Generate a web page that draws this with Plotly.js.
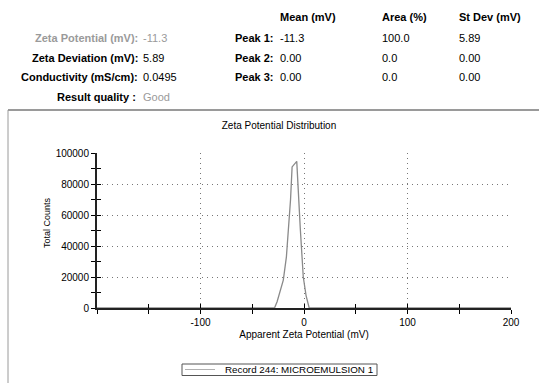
<!DOCTYPE html>
<html>
<head>
<meta charset="utf-8">
<script src="https://cdn.plot.ly/plotly-3.0.1.min.js"></script>
<style>html,body{margin:0;padding:0;background:#fff;}#chart{width:539px;height:383px;}</style>
</head>
<body>
<div id="chart"></div>
<script>
// ---- data ----
const zetaMv      = [-200, -28.5, -26, -23, -20, -17, -14.8, -13, -11.5, -7, -3.6, -0.7, 2, 5, 200];
const totalCounts = [0, 0, 4000, 11000, 18000, 33000, 51400, 70000, 91000, 94600, 51400, 20000, 8000, 0, 0];
const seriesName = "Record 244: MICROEMULSION 1";
const xTickVals = [-100, 0, 100, 200];
const xTickText = ["-100", "0", "100", "200"];
const yTickVals = [0, 20000, 40000, 60000, 80000, 100000];
const yTickText = ["0", "20000", "40000", "60000", "80000", "100000"];

const headerCols = ["Mean (mV)", "Area (%)", "St Dev (mV)"];
const summaryLabels = ["Zeta Potential (mV):", "Zeta Deviation (mV):", "Conductivity (mS/cm):", "Result quality :"];
const summaryValues = ["-11.3", "5.89", "0.0495", "Good"];
const peakLabels = ["Peak 1:", "Peak 2:", "Peak 3:"];
const peakMean = ["-11.3", "0.00", "0.00"];
const peakArea = ["100.0", "0.0", "0.0"];
const peakStd  = ["5.89", "0.00", "0.00"];

// ---- layout geometry (pixels) ----
const W = 539, H = 383;
const M = {l: 97, r: 28, t: 153, b: 75, autoexpand: false};
const PW = W - M.l - M.r, PH = H - M.t - M.b;
const px = x => (x - M.l) / PW;
const py = y => (H - M.b - y) / PH;
const FONT = "Liberation Sans, Arial, sans-serif";
const LINE_GRAY = "#8a8a8a";

const annotations = [];
function txt(text, x, y, anchor, opts) {
  opts = opts || {};
  annotations.push({
    text: opts.bold ? "<b>" + text + "</b>" : text,
    xref: "paper", yref: "paper", x: px(x), y: py(y),
    xanchor: anchor, yanchor: "middle", showarrow: false, borderpad: 0,
    textangle: opts.angle || 0,
    font: {family: FONT, size: opts.size || 11, color: opts.color || "#000"}
  });
}
const rowY = [17, 38, 58, 77, 97];
const colX = {labR: 138.5, val: 142, peakR: 275, mean: 279, area: 381, std: 458};
const GRAY = "#9a9a9a";

txt(headerCols[0], colX.mean, rowY[0], "left", {bold: true});
txt(headerCols[1], colX.area, rowY[0], "left", {bold: true});
txt(headerCols[2], colX.std, rowY[0], "left", {bold: true});
summaryLabels.forEach((l, i) => {
  const gray = (i === 0);
  txt(l, i === 3 ? 137 : colX.labR, rowY[i + 1], "right", {bold: true, color: gray ? GRAY : "#000"});
  txt(summaryValues[i], colX.val, rowY[i + 1], "left", {color: (i === 0 || i === 3) ? GRAY : "#000"});
});
peakLabels.forEach((l, i) => {
  txt(l, colX.peakR, rowY[i + 1], "right", {bold: true});
  txt(peakMean[i], colX.mean, rowY[i + 1], "left");
  txt(peakArea[i], colX.area, rowY[i + 1], "left");
  txt(peakStd[i], colX.std, rowY[i + 1], "left");
});
// y axis title
txt("Total Counts", 47, 223, "center", {angle: -90, size: 9});
// legend text
txt(seriesName, 224, 369.5, "left", {size: 9.8});

const shapes = [
  {type: "line", xref: "paper", yref: "paper", x0: px(8), x1: px(539), y0: py(110), y1: py(110), line: {color: "#9a9a9a", width: 2}},
  {type: "line", xref: "paper", yref: "paper", x0: px(8), x1: px(8), y0: py(110), y1: py(383), line: {color: "#9a9a9a", width: 1}},
  // legend box and sample
  {type: "rect", xref: "paper", yref: "paper", x0: px(182), x1: px(377), y0: py(364), y1: py(375.5), line: {color: "#555", width: 1}, fillcolor: "rgba(0,0,0,0)"},
  {type: "line", xref: "paper", yref: "paper", x0: px(185), x1: px(215), y0: py(369.5), y1: py(369.5), line: {color: "#b0b0b0", width: 1}}
];

const trace = {
  x: zetaMv, y: totalCounts, type: "scatter", mode: "lines", name: seriesName,
  line: {color: LINE_GRAY, width: 1.3}, showlegend: false
};

const axisFont = {family: FONT, size: 10, color: "#000"};
const layout = {
  width: W, height: H,
  margin: M,
  paper_bgcolor: "#fff", plot_bgcolor: "#fff",
  font: {family: FONT, size: 10, color: "#000"},
  title: {text: "Zeta Potential Distribution", font: {family: FONT, size: 10, color: "#000"},
          xref: "container", yref: "container", x: 279 / W, y: (H - 125) / H, xanchor: "center", yanchor: "middle"},
  xaxis: {
    range: [-200, 200], tickvals: xTickVals, ticktext: xTickText, ticks: "outside", ticklen: 4, tickcolor: "#000", tickwidth: 1,
    minor: {dtick: 50, tick0: 0, ticks: "outside", ticklen: 4, tickcolor: "#000", showgrid: false},
    showline: true, linecolor: "#222", linewidth: 2,
    showgrid: true, gridcolor: "#777", griddash: "1px,4px", gridwidth: 1,
    zeroline: false, tickfont: axisFont, automargin: false,
    title: {text: "Apparent Zeta Potential (mV)", font: {family: FONT, size: 10, color: "#000"}, standoff: 4}
  },
  yaxis: {
    range: [0, 100000], tickvals: yTickVals, ticktext: yTickText, ticks: "outside", ticklen: 4, tickcolor: "#000", tickwidth: 1,
    minor: {dtick: 10000, tick0: 0, ticks: "outside", ticklen: 4, tickcolor: "#000", showgrid: false},
    showline: true, linecolor: "#222", linewidth: 2,
    showgrid: true, gridcolor: "#777", griddash: "1px,4px", gridwidth: 1,
    zeroline: false, tickfont: axisFont, automargin: false
  },
  xaxis2: {overlaying: "x", anchor: "y", range: [-200, 200], dtick: 50, tick0: 0, ticks: "inside", ticklen: 4,
           tickcolor: "#000", showticklabels: false, showgrid: false, zeroline: false, showline: false, side: "bottom"},
  yaxis2: {overlaying: "y", anchor: "x", range: [0, 100000], dtick: 10000, tick0: 0, ticks: "inside", ticklen: 4,
           tickcolor: "#000", showticklabels: false, showgrid: false, zeroline: false, showline: false, side: "left"},
  showlegend: false,
  annotations: annotations,
  shapes: shapes
};

const helper = {x: [-200, 200], y: [0, 0], xaxis: "x2", yaxis: "y2", mode: "lines",
                line: {width: 0, color: "rgba(0,0,0,0)"}, showlegend: false, hoverinfo: "skip"};

Plotly.newPlot("chart", [trace, helper], layout, {displayModeBar: false, staticPlot: true});
</script>
</body>
</html>
